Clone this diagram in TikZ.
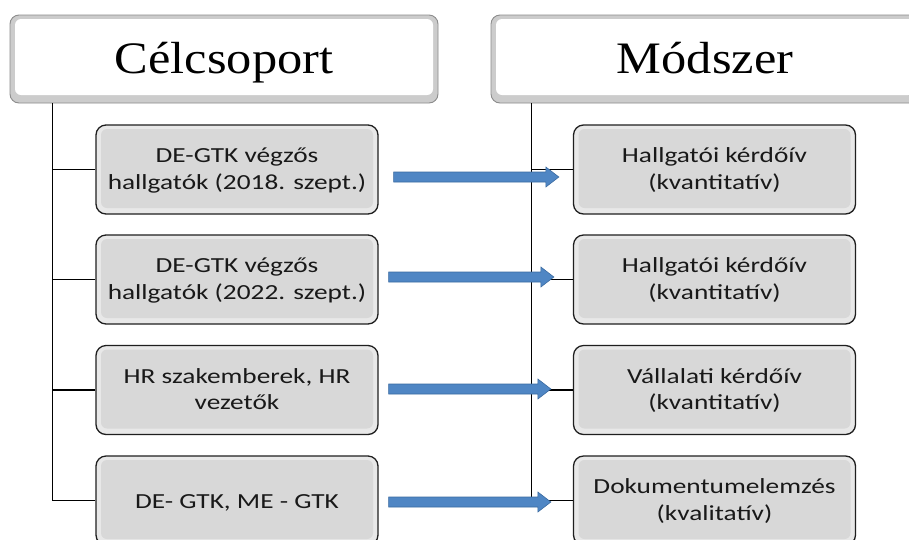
\documentclass[tikz,border=0pt]{standalone}
\usepackage{fontspec}
\setmainfont{Carlito}
\newfontfamily\boxfont[FakeStretch=1.27]{Carlito}
\newfontfamily\headfont[FakeStretch=1.12]{Liberation Serif}
\usetikzlibrary{calc}
\definecolor{boxfill}{RGB}{216,216,216}
\definecolor{boxedge}{RGB}{232,232,232}
\definecolor{arrowfill}{RGB}{79,134,196}
\definecolor{arrowline}{RGB}{58,106,160}
\tikzset{
  header/.style={draw=black!45, line width=0.9pt, rounded corners=9pt, fill=black!20,
    minimum width=428pt, minimum height=88pt, inner sep=0pt,
    text height=36pt, text depth=8pt,
    font=\headfont\fontsize{45}{50}\selectfont,
    path picture={\fill[white, rounded corners=6pt]
      ([shift={(5pt,8pt)}]path picture bounding box.south west) rectangle
      ([shift={(-5pt,-4pt)}]path picture bounding box.north east);}},
  itembox/.style={draw=black!88, line width=1.3pt, rounded corners=10pt, fill=boxedge,
    minimum width=282pt, minimum height=89pt, inner sep=0pt, align=center,
    text height=45pt, text depth=5.4pt,
    text=black!90, font=\boxfont\fontsize{21.5}{26.6}\selectfont,
    path picture={\fill[boxfill, rounded corners=6pt]
      ([shift={(5pt,6pt)}]path picture bounding box.south west) rectangle
      ([shift={(-5pt,-4pt)}]path picture bounding box.north east);}},
  oneline/.style={text height=15pt, text depth=0pt},
  conn/.style={line width=1.3pt, black},
  blockarrow/.style={fill=arrowfill, draw=arrowline, line width=0.6pt, line join=miter}
}
\newcommand\mybluearrow[2]{%
  \filldraw[blockarrow] ($(#1)+(0pt,5pt)$) -- ($(#2)+(-13pt,5pt)$) -- ($(#2)+(-13pt,10pt)$)
    -- (#2) -- ($(#2)+(-13pt,-10pt)$) -- ($(#2)+(-13pt,-5pt)$) -- ($(#1)+(0pt,-5pt)$) -- cycle;}
\begin{document}
\begin{tikzpicture}[x=1pt,y=-1pt]
\useasboundingbox (0,0) rectangle (909,539);
\clip (0,0) rectangle (909,539);
\fill[white] (0,0) rectangle (909,539);

\node[header] (h1) at (224,59) {Célcsoport};
\node[header] (h2) at (705,59) {Módszer};

\node[itembox] (l1) at (237,169.5) {DE-GTK végzős\\hallgatók (2018. szept.)};
\node[itembox] (l2) at (237,279.5) {DE-GTK végzős\\hallgatók (2022. szept.)};
\node[itembox] (l3) at (237,390) {HR szakemberek, HR\\vezetők};
\node[itembox, oneline] (l4) at (237,500.5) {DE- GTK, ME - GTK};

\node[itembox] (r1) at (714.5,169.5) {Hallgatói kérdőív\\(kvantitatív)};
\node[itembox] (r2) at (714.5,279.5) {Hallgatói kérdőív\\(kvantitatív)};
\node[itembox] (r3) at (714.5,390) {Vállalati kérdőív\\(kvantitatív)};
\node[itembox] (r4) at (714.5,500.5) {Dokumentumelemzés\\(kvalitatív)};

% trunks and branches
\coordinate (lt) at ([xshift=43pt]h1.south west);
\coordinate (rt) at ([xshift=41pt]h2.south west);
\draw[conn] (lt) |- (l4.west);
\draw[conn] (l1.west) -- (l1.west -| lt);
\draw[conn] (l2.west) -- (l2.west -| lt);
\draw[conn] (l3.west) -- (l3.west -| lt);
\draw[conn] (rt) |- (r4.west);
\draw[conn] (r1.west) -- (r1.west -| rt);
\draw[conn] (r2.west) -- (r2.west -| rt);
\draw[conn] (r3.west) -- (r3.west -| rt);

% block arrows
\coordinate (a1s) at ($(l1.east)+(15pt,-7.5pt)$);
\coordinate (a1e) at ($(r1.west)+(-14pt,-7.5pt)$);
\coordinate (a2s) at ($(l2.east)+(10pt,2.5pt)$);
\coordinate (a2e) at ($(r2.west)+(-19pt,2.5pt)$);
\coordinate (a3s) at ($(l3.east)+(10pt,1pt)$);
\coordinate (a3e) at ($(r3.west)+(-22pt,1pt)$);
\coordinate (a4s) at ($(l4.east)+(10pt,-1.5pt)$);
\coordinate (a4e) at ($(r4.west)+(-22pt,-1.5pt)$);
\mybluearrow{a1s}{a1e}
\mybluearrow{a2s}{a2e}
\mybluearrow{a3s}{a3e}
\mybluearrow{a4s}{a4e}
\end{tikzpicture}
\end{document}
